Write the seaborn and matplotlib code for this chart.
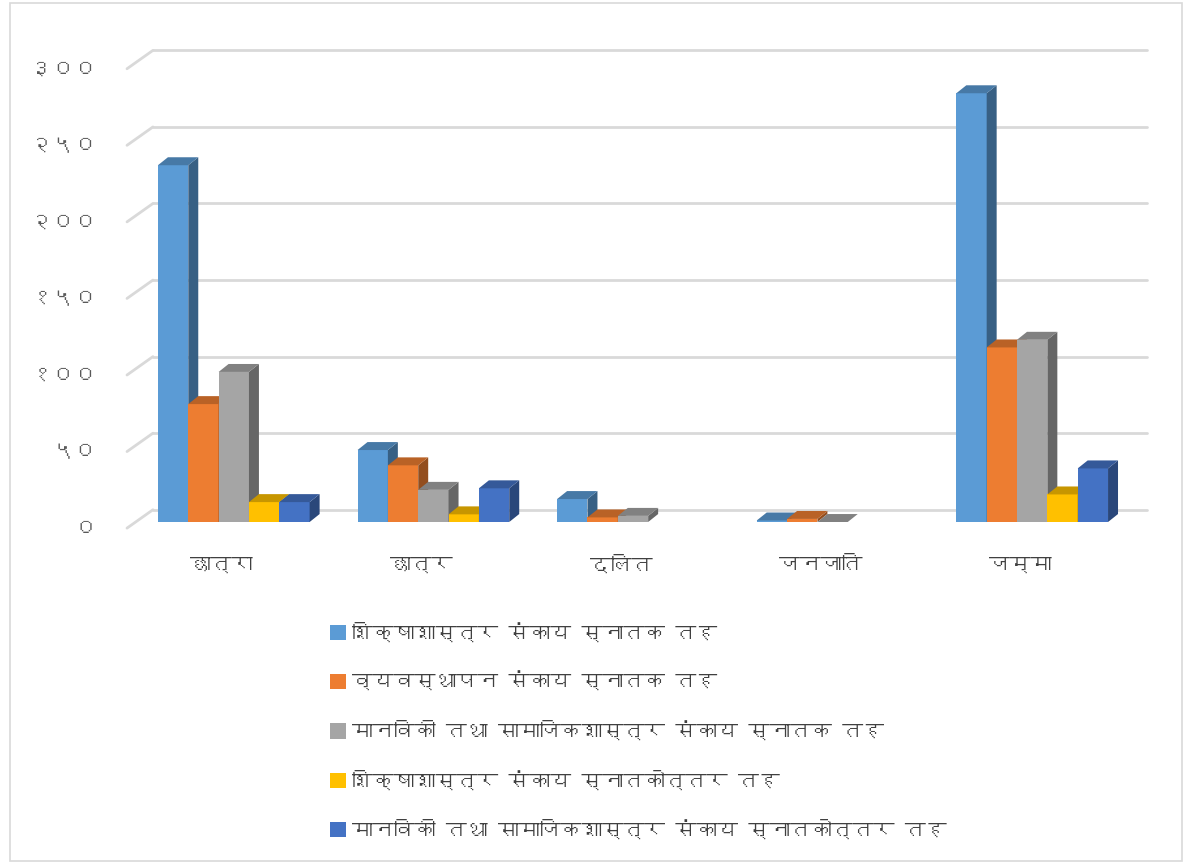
import pandas as pd
import matplotlib
matplotlib.use("Agg")
import matplotlib.pyplot as plt
import seaborn as sns
from matplotlib import font_manager
from matplotlib.patches import Polygon, Rectangle
import numpy as np

categories = ["छात्रा", "छात्र", "दलित", "जनजाति", "जम्मा"]
series = [
    "शिक्षाशास्त्र संकाय स्नातक तह",
    "व्यवस्थापन संकाय स्नातक तह",
    "मानविकी तथा सामाजिकशास्त्र संकाय स्नातक तह",
    "शिक्षाशास्त्र संकाय स्नातकोत्तर तह",
    "मानविकी तथा सामाजिकशास्त्र संकाय स्नातकोत्तर तह",
]
edu_bachelor = [233, 47, 15, 1, 280]
mgmt_bachelor = [77, 37, 3, 2, 114]
hum_bachelor = [98, 21, 4, 0, 119]
edu_master = [13, 5, np.nan, np.nan, 18]
hum_master = [13, 22, np.nan, np.nan, 35]
yticks = [0, 50, 100, 150, 200, 250, 300]
ytick_labels = ["०", "५०", "१००", "१५०", "२००", "२५०", "३००"]
colors = ["#5B9BD5", "#ED7D31", "#A5A5A5", "#FFC000", "#4472C4"]


def find_devanagari_font():
    try:
        from fontTools.ttLib import TTFont
    except ImportError:
        return None
    for f in font_manager.fontManager.ttflist:
        try:
            cmap = TTFont(f.fname, fontNumber=0, lazy=True).getBestCmap()
        except Exception:
            continue
        if cmap and 0x0915 in cmap and 0x0967 in cmap:
            return f.name
    return None


sns.set_theme(style="white")
deva = find_devanagari_font()
plt.rcParams["font.family"] = [deva, "DejaVu Sans"] if deva else ["DejaVu Sans"]

rows = []
for name, vals in zip(series, [edu_bachelor, mgmt_bachelor, hum_bachelor, edu_master, hum_master]):
    for cat, v in zip(categories, vals):
        rows.append({"category": cat, "series": name, "value": v})
df = pd.DataFrame(rows)

fig = plt.figure(figsize=(11.87, 8.63), dpi=100)
ax = fig.add_axes([127 / 1187, (863 - 522) / 863, 998 / 1187, 490 / 863])

sns.barplot(data=df, x="category", y="value", hue="series", palette=colors,
            width=0.76, ax=ax, saturation=1, linewidth=0, legend=True)

ax.set_xlim(-0.535, 4.465)
ax.set_ylim(0, 320)
ax.axis("off")

# depth of the 3d boxes (data units)
dx, dy = 0.05, 5.2


def shade(c, f):
    r, g, b = matplotlib.colors.to_rgb(c)
    return (r * f, g * f, b * f)


for k, cont in enumerate(ax.containers):
    for bar in cont:
        h = bar.get_height()
        if np.isnan(h):
            continue
        x, w = bar.get_x(), bar.get_width()
        bar.set_zorder(3 + k)
        c = colors[k]
        side = Polygon([(x + w, 0), (x + w + dx, dy), (x + w + dx, h + dy), (x + w, h)],
                       closed=True, facecolor=shade(c, 0.62), lw=0, zorder=3 + k)
        top = Polygon([(x, h), (x + w, h), (x + w + dx, h + dy), (x + dx, h + dy)],
                      closed=True, facecolor=shade(c, 0.78), lw=0, zorder=3 + k)
        ax.add_patch(side)
        ax.add_patch(top)

# back wall gridlines with slanted ticks
grid_c = "#d9d9d9"
for v, lab in zip(yticks, ytick_labels):
    ax.plot([-0.535, -0.405], [v - 4, v + 8], color=grid_c, lw=2, zorder=1, clip_on=False)
    ax.plot([-0.405, 4.575], [v + 8, v + 8], color=grid_c, lw=2, zorder=1, clip_on=False)
    ax.text(-0.685, v - 4, lab, ha="right", va="center", fontsize=16, color="#595959")

for i, cat in enumerate(categories):
    ax.text(i - 0.06, -28, cat, ha="center", va="center", fontsize=15, color="#404040")

handles, labels = ax.get_legend_handles_labels()
ax.get_legend().remove()
fig.legend(handles, labels, loc="upper left", bbox_to_anchor=(320 / 1187, 1 - 612 / 863),
           frameon=False, fontsize=15, labelcolor="#404040", handlelength=0.75,
           handleheight=0.75, handletextpad=0.3, labelspacing=1.4, borderpad=0)

fig.patches.append(Rectangle((10 / 1187, 2 / 863), 1172 / 1187, 858 / 863,
                             transform=fig.transFigure, fill=False,
                             edgecolor="#d9d9d9", lw=1.2))

fig.savefig("out.png", dpi=100)
